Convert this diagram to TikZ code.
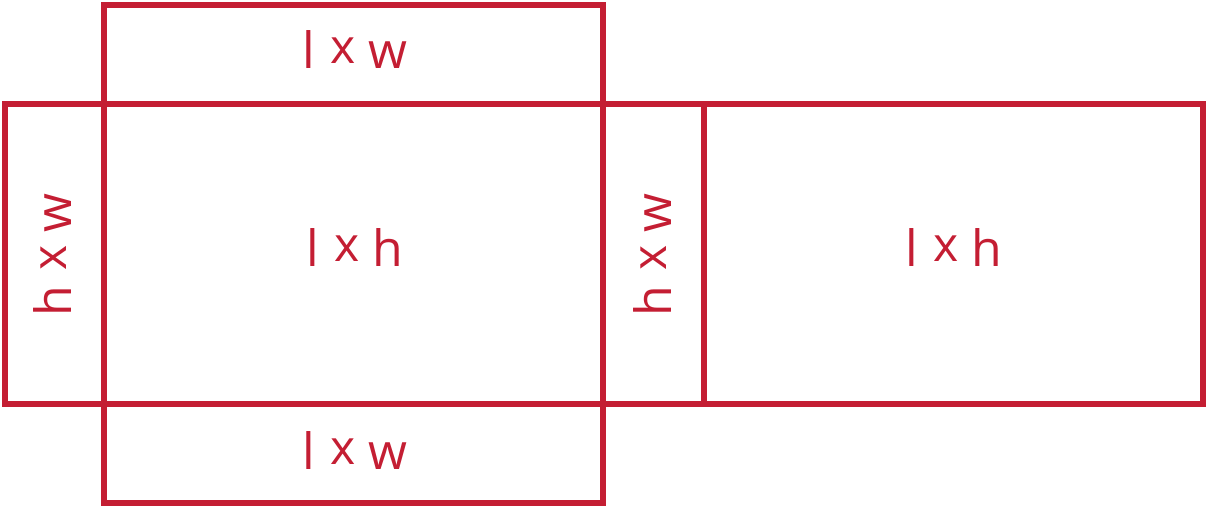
\documentclass[tikz,border=0pt]{standalone}
\usepackage{fontspec}
\setmainfont{Open Sans}
\definecolor{netred}{HTML}{C41E33}
\newcommand{\tmx}{\hspace{15pt}\raisebox{5pt}{\fontsize{48}{48}\selectfont x}\hspace{13pt}}
\begin{document}
\begin{tikzpicture}[x=1pt,y=-1pt,
  face/.style={draw=netred,line width=5.5pt},
  lbl/.style={text=netred,font=\fontsize{50}{50}\selectfont,inner sep=0pt,anchor=base}]
\useasboundingbox (0,0) rectangle (1208,508);
\draw[face] (104,5) rectangle (603,104);
\draw[face] (5,104) rectangle (104,404);
\draw[face] (104,104) rectangle (603,404);
\draw[face] (603,104) rectangle (704,404);
\draw[face] (704,104) rectangle (1203,404);
\draw[face] (104,404) rectangle (603,503);
\node[lbl] (top) at (355,69) {l\tmx w};
\node[lbl] (bot) at (355,469) {l\tmx w};
\node[lbl] (mid) at (355,266) {l\tmx h};
\node[lbl] (rgt) at (954,266) {l\tmx h};
\node[lbl,rotate=90] (lft) at (71,255) {h\tmx w};
\node[lbl,rotate=90] (sid) at (671,255) {h\tmx w};
\end{tikzpicture}
\end{document}
